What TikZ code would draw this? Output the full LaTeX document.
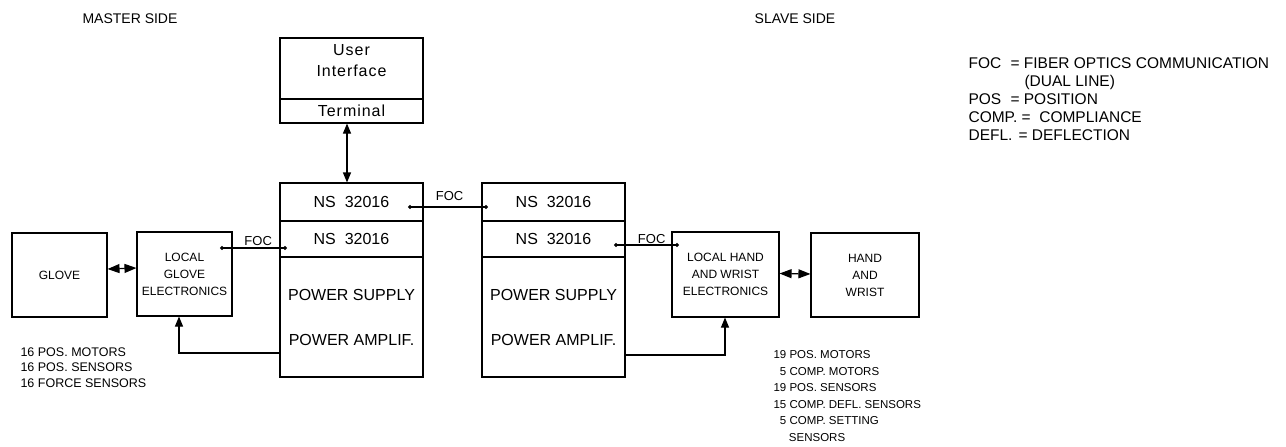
\documentclass[tikz,border=0pt]{standalone}
\usepackage{fontspec}
\setmainfont{Liberation Sans}
\usetikzlibrary{arrows.meta, calc}

\begin{document}
\begin{tikzpicture}[
  x=1pt, y=-1pt,
  line width=1.1pt,
  box/.style={draw, line width=1.1pt, inner sep=0pt, align=center},
  bigtxt/.style={font=\fontsize{16}{19}\selectfont},
  smalltxt/.style={font=\fontsize{12}{17}\selectfont},
  headtxt/.style={font=\fontsize{14}{17}\selectfont},
  termtxt/.style={font=\fontsize{16}{21}\selectfont\addfontfeatures{LetterSpace=6}},
  foclbl/.style={font=\fontsize{13}{15}\selectfont, inner sep=2pt},
  link/.style={{Triangle[length=10pt,width=8pt]}-{Triangle[length=10pt,width=8pt]}},
  shortlink/.style={{Triangle[length=12pt,width=9pt]}-{Triangle[length=12pt,width=9pt]}},
  fb/.style={-{Triangle[length=10pt,width=8pt]}},
  foc/.style={{Circle[length=4pt]}-{Circle[length=4pt]}},
]
\useasboundingbox (0,0) rectangle (1286,447);

% --- Headings ---
\node[headtxt] (master) at (130,19) {MASTER SIDE};
\node[headtxt] (slave) at (795,19) {SLAVE SIDE};

% --- Terminal ---
\node[box, minimum width=143pt, minimum height=61pt,
      label={[termtxt, align=center, anchor=north, yshift=-3pt]north:{User\\Interface}}]
      (ui) at (351.5,68.5) {};
\node[box, termtxt, minimum width=143pt, minimum height=24pt] (term) at (351.5,111) {Terminal};

% --- Master computer ---
\node[box, bigtxt, minimum width=143pt, minimum height=38pt] (mns1) at (351.5,202) {NS\ \ 32016};
\node[box, bigtxt, minimum width=143pt, minimum height=36pt] (mns2) at (351.5,239) {NS\ \ 32016};
\node[box, font=\fontsize{16}{45}\selectfont, minimum width=143pt, minimum height=120pt] (mpow) at (351.5,317)
      {POWER SUPPLY\\POWER AMPLIF.};

% --- Slave computer ---
\node[box, bigtxt, minimum width=143pt, minimum height=38pt] (sns1) at (553.5,202) {NS\ \ 32016};
\node[box, bigtxt, minimum width=143pt, minimum height=36pt] (sns2) at (553.5,239) {NS\ \ 32016};
\node[box, font=\fontsize{16}{45}\selectfont, minimum width=143pt, minimum height=120pt] (spow) at (553.5,317)
      {POWER SUPPLY\\POWER AMPLIF.};

% --- Glove side ---
\node[box, smalltxt, minimum width=95pt, minimum height=84pt] (glove) at (59.5,275) {GLOVE};
\node[box, smalltxt, minimum width=95pt, minimum height=84pt] (lge) at (184.5,274) {LOCAL\\GLOVE\\ELECTRONICS};

% --- Hand side ---
\node[box, smalltxt, minimum width=107pt, minimum height=85pt] (lhw) at (725.5,274.5) {LOCAL HAND\\AND WRIST\\ELECTRONICS};
\node[box, smalltxt, minimum width=108pt, minimum height=84pt] (hw) at (865,275) {HAND\\AND\\WRIST};

% --- Links ---
\draw[link] ([xshift=-4.5pt]term.south) -- ([xshift=-4.5pt]mns1.north);
\draw[shortlink] ([yshift=6pt]glove.east) -- ([yshift=6pt]lge.west);
\draw[shortlink] ([yshift=1pt]lhw.east) -- ([yshift=1pt]hw.west);

% FOC lines
\coordinate (f1a) at (220,248);
\coordinate (f1b) at (287,248);
\coordinate (f2a) at (408,207);
\coordinate (f2b) at (488,207);
\coordinate (f3a) at (614,245);
\coordinate (f3b) at (679,245);
\draw[foc] (f1a) -- (f1b) node[pos=0.57, above, foclbl] {FOC};
\draw[foc] (f2a) -- (f2b) node[pos=0.52, above, foclbl, inner sep=6pt] {FOC};
\draw[foc] (f3a) -- (f3b) node[pos=0.58, above, foclbl, inner sep=1pt] {FOC};

% feedback from the power amplifiers
\coordinate (fbm) at (179,353);
\coordinate (fbs) at (725,355);
\draw[fb] (fbm -| mpow.west) -- (fbm) -- (fbm |- lge.south);
\draw[fb] (fbs -| spow.east) -- (fbs) -- (fbs |- lhw.south);

% --- Lists ---
\node[font=\fontsize{12.5}{15.5}\selectfont, align=left, anchor=north west, inner sep=0pt] (mlist) at (20,347)
  {16 POS. MOTORS\\16 POS. SENSORS\\16 FORCE SENSORS};
\node[font=\fontsize{11.5}{16.5}\selectfont, align=left, anchor=north west, inner sep=0pt] (slist) at (773,350)
  {19 POS. MOTORS\\\phantom{1}5 COMP. MOTORS\\19 POS. SENSORS\\15 COMP. DEFL. SENSORS\\
   \phantom{1}5 COMP. SETTING\\\phantom{1}\hspace{9pt}SENSORS};

% --- Legend ---
\node[font=\fontsize{15.5}{18}\selectfont, align=left, anchor=north west, inner sep=0pt] (legend) at (968,57.5)
  {\makebox[42pt][l]{FOC}= FIBER OPTICS COMMUNICATION\\
   \hspace{56pt}(DUAL LINE)\\
   \makebox[42pt][l]{POS}= POSITION\\
   COMP.\ = \ COMPLIANCE\\
   \makebox[50pt][l]{DEFL.}= DEFLECTION};

\end{tikzpicture}
\end{document}
